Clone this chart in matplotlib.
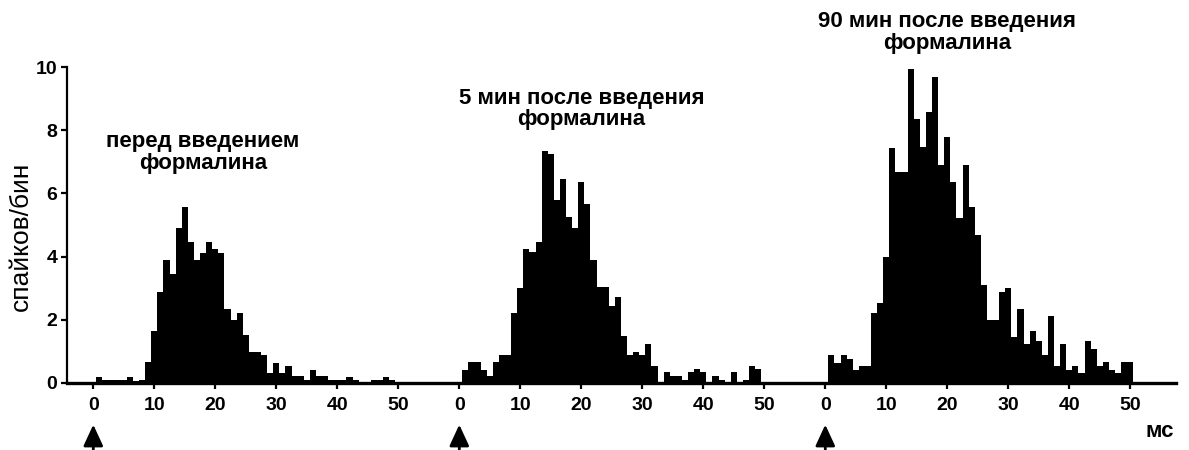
import numpy as np
import matplotlib
matplotlib.use("Agg")
import matplotlib.pyplot as plt

plt.rcParams['font.family'] = ['Liberation Sans', 'DejaVu Sans']

# bins of 1 ms, centres 1..50 ms after stimulus
bins = np.arange(1, 51)

before = [0.2, 0.1, 0.1, 0.1, 0.1, 0.2, 0.05, 0.1, 0.66, 1.66,
          2.88, 3.9, 3.46, 4.89, 5.56, 4.47, 3.9, 4.1, 4.47, 4.23,
          4.1, 2.33, 1.99, 2.22, 1.53, 0.97, 0.97, 0.9, 0.32, 0.63,
          0.32, 0.55, 0.21, 0.21, 0.1, 0.42, 0.21, 0.21, 0.1, 0.1,
          0.1, 0.2, 0.1, 0.0, 0.0, 0.1, 0.1, 0.2, 0.1, 0.0]

after5 = [0.42, 0.66, 0.66, 0.42, 0.21, 0.66, 0.9, 0.9, 2.22, 3.0,
          4.23, 4.16, 4.47, 7.35, 7.25, 5.79, 6.46, 5.24, 4.9, 6.35,
          5.68, 3.9, 3.05, 3.05, 2.43, 2.73, 1.48, 0.87, 0.97, 0.87,
          1.22, 0.55, 0.02, 0.34, 0.21, 0.21, 0.1, 0.34, 0.44, 0.34,
          0.0, 0.21, 0.1, 0.0, 0.34, 0.0, 0.1, 0.55, 0.44, 0.0]

after90 = [0.9, 0.63, 0.9, 0.76, 0.42, 0.55, 0.55, 2.22, 2.54, 4.0,
           7.45, 6.69, 6.69, 9.93, 8.36, 7.46, 8.57, 9.68, 6.91, 7.78,
           6.35, 5.22, 6.9, 5.56, 4.68, 3.11, 1.99, 1.99, 2.88, 3.0,
           1.46, 2.33, 1.22, 1.64, 1.34, 0.9, 2.12, 0.55, 1.22, 0.42,
           0.55, 0.32, 1.32, 1.09, 0.55, 0.66, 0.42, 0.32, 0.66, 0.66]

titles = ["перед введением\nформалина",
          "5 мин после введения\nформалина",
          "90 мин после введения\nформалина"]
tick_vals = [0, 10, 20, 30, 40, 50]
yticks = [0, 2, 4, 6, 8, 10]

offset = 60  # ms between the three panels on the shared axis
title_pos = [(18, 7.3), (20, 8.67), (20, 11.1)]

fig = plt.figure(figsize=(11.89, 4.5), dpi=100)
ax = fig.add_axes([0.0564, 0.149, 0.9327, 0.702])

xt = []
xl = []
for i, data in enumerate([before, after5, after90]):
    ax.bar(bins + i * offset, data, width=1.0, color='black', linewidth=0)
    for t in tick_vals:
        xt.append(t + i * offset)
        xl.append(str(t))
    tx, ty = title_pos[i]
    ax.text(tx + i * offset, ty, titles[i], ha='center', va='center',
            fontsize=16, fontweight='bold', linespacing=1.05, clip_on=False)
    ax.annotate('', xy=(i * offset, -1.32), xytext=(i * offset, -2.2),
                arrowprops=dict(arrowstyle='-|>,head_width=0.6,head_length=1.3',
                                color='black', lw=2, shrinkA=0, shrinkB=0),
                annotation_clip=False)

ax.set_xlim(-4.3, 177.5)
ax.set_ylim(0, 10)
ax.set_xticks(xt)
ax.set_xticklabels(xl)
ax.set_yticks(yticks)
for lab in ax.get_xticklabels() + ax.get_yticklabels():
    lab.set_fontweight('bold')
    lab.set_fontsize(14)

ax.spines['top'].set_visible(False)
ax.spines['right'].set_visible(False)
ax.spines['left'].set_linewidth(1.6)
ax.spines['bottom'].set_linewidth(2.4)
ax.tick_params(axis='both', direction='out', length=4, width=1.6, pad=3)
ax.tick_params(axis='x', pad=6)

ax.set_ylabel("спайков/бин", fontsize=19)
ax.yaxis.set_label_coords(-0.031, 0.465)
ax.text(174.9, -1.55, "мс", ha='center', va='center', fontsize=16,
        fontweight='bold', clip_on=False)

fig.savefig("out.png", dpi=100)
